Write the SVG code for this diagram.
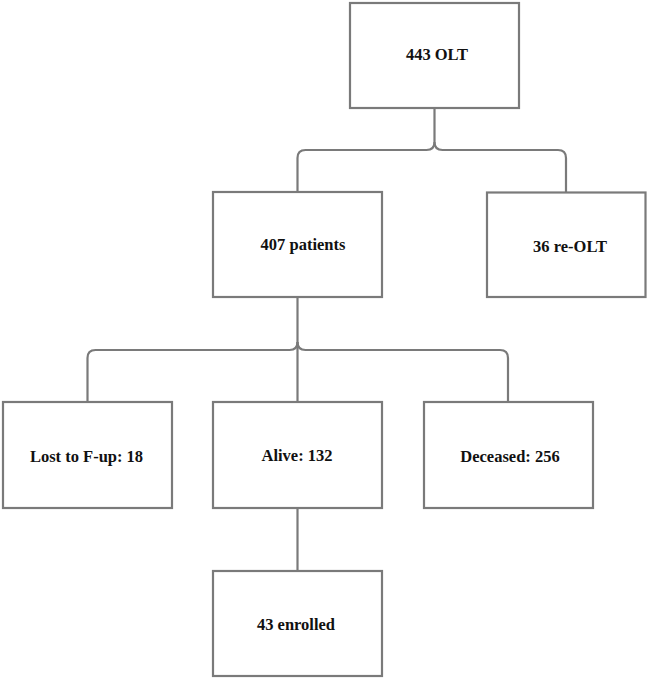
<svg xmlns="http://www.w3.org/2000/svg" width="648" height="680" viewBox="0 0 648 680">
<style>
.box{fill:#fff;stroke:#7a7a7a;stroke-width:2.2}
.lbl{font-family:"Liberation Serif","Times New Roman",serif;font-weight:bold;font-size:16.5px;fill:#111;text-anchor:middle}
.c{fill:none;stroke:#7a7a7a;stroke-width:2.2}
</style>
<rect width="648" height="680" fill="#fff"/>
<g id="connectors">
<path class="c" d="M434.5,108 V142 Q434.5,150 426.5,150 H305.5 Q297.5,150 297.5,158 V192"/>
<path class="c" d="M434.5,142 Q434.5,150 442.5,150 H558 Q566,150 566,158 V192"/>
<path class="c" d="M297.5,297 V402"/>
<path class="c" d="M297.5,342 Q297.5,350 289.5,350 H95.5 Q87.5,350 87.5,358 V402"/>
<path class="c" d="M297.5,342 Q297.5,350 305.5,350 H500 Q508,350 508,358 V402"/>
<path class="c" d="M297.5,508 V571"/>
</g>
<g id="n_olt"><rect class="box" x="350" y="3" width="169" height="105"/><text class="lbl" x="437" y="60">443 OLT</text></g>
<g id="n_patients"><rect class="box" x="213" y="192" width="169" height="105"/><text class="lbl" x="303" y="249.5">407 patients</text></g>
<g id="n_reolt"><rect class="box" x="487" y="192.5" width="158.5" height="104.5"/><text class="lbl" x="570" y="251.5">36 re-OLT</text></g>
<g id="n_lost"><rect class="box" x="3" y="402" width="169" height="106"/><text class="lbl" x="86.5" y="462">Lost to F-up: 18</text></g>
<g id="n_alive"><rect class="box" x="213" y="402" width="169" height="106"/><text class="lbl" x="297" y="461">Alive: 132</text></g>
<g id="n_deceased"><rect class="box" x="424" y="402" width="169" height="106"/><text class="lbl" x="510" y="462">Deceased: 256</text></g>
<g id="n_enrolled"><rect class="box" x="213" y="571" width="169" height="105"/><text class="lbl" x="296" y="630">43 enrolled</text></g>
</svg>
